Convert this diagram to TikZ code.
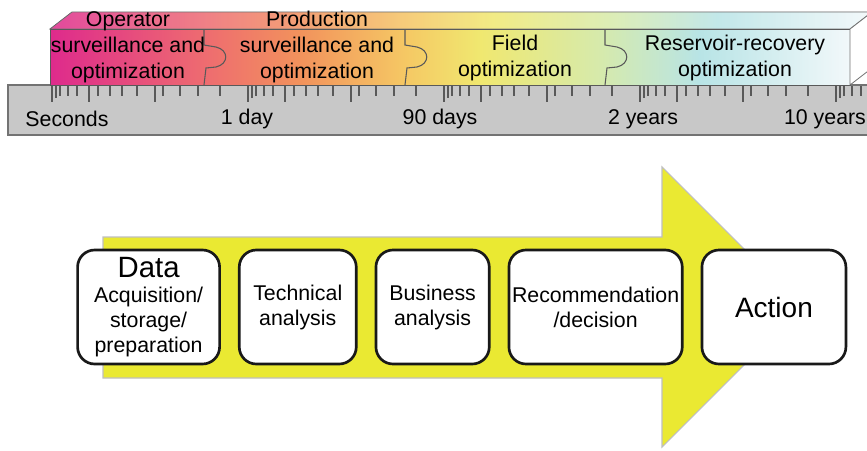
\documentclass[tikz,border=0pt]{standalone}
\usepackage{fontspec}
\setmainfont{Liberation Sans}
\usepackage{tikz}
\usetikzlibrary{shapes.misc}
\definecolor{bandmagenta}{RGB}{222,42,140}
\definecolor{bandsalmon}{RGB}{238,108,112}
\definecolor{bandorange}{RGB}{242,146,92}
\definecolor{bandamber}{RGB}{245,200,100}
\definecolor{bandyellow}{RGB}{240,232,112}
\definecolor{bandgreen}{RGB}{214,234,172}
\definecolor{bandcyan}{RGB}{184,228,230}
\definecolor{bandwhite}{RGB}{242,248,250}
\definecolor{arrowyellow}{RGB}{234,233,50}
\definecolor{rulergray}{RGB}{200,200,200}
\pgfdeclarehorizontalshading{timeband}{100bp}{color(0bp)=(bandmagenta); color(25bp)=(bandmagenta); color(34.7bp)=(bandsalmon); color(40.6bp)=(bandorange); color(47.2bp)=(bandamber); color(51.9bp)=(bandyellow); color(59.4bp)=(bandgreen); color(65.6bp)=(bandcyan); color(75bp)=(bandwhite); color(100bp)=(bandwhite)}
\tikzset{
	band/.style={
		% The filling:
		shading=timeband,
		% The border:
		draw=black!65,
		line width=0.6pt,
	}}
\tikzset{
	bandtext/.style={
		% The text:
		font=\fontsize{16}{19.5}\selectfont,
		align=center,inner sep=0pt,
	}}
\tikzset{
	tick/.style={
		draw=black!65,line width=1pt,
	}}
\tikzset{
	stage/.style={
		% The shape:
		shape=rectangle,rounded corners=4.5mm,
		% The size:
		minimum height=85.5pt,
		% The border:
		line width=2pt,
		draw=black!90,
		% The filling:
		fill=white,
		% The text:
		font=\fontsize{16}{18.75}\selectfont,
		align=center,inner sep=0pt,
	}}

\begin{document}
\begin{tikzpicture}[x=0.75pt,y=-0.75pt]
	\useasboundingbox (0,0) rectangle (867,450);
	% the ruler
	\draw[fill=rulergray,draw=black!55,line width=0.8pt] (8,85) rectangle (872,135);
	\foreach \c in {52,248,444,640,836}
		\foreach \o/\l in {0/16,4/12,8/10,16/10,25/10,37/16,46/10,58/10,70/10,85/10,103/16,111/10,128/10,146/10,168/10}
			\draw[tick] (\c+\o,86) -- ++(0,\l);
	\node[bandtext] (l0) at (67,119) {Seconds};
	\node[bandtext] (l1) at (247,119) {1 day};
	\node[bandtext] (l2) at (440,119) {90 days};
	\node[bandtext] (l3) at (643,119) {2 years};
	\node[bandtext] (l4) at (825,119) {10 years};
	% the band: top, front and end faces
	\draw[band] (50,29) -- (72,12) -- (872,12) -- (850,29) -- cycle;
	\fill[white,opacity=0.15] (50,29) -- (72,12) -- (872,12) -- (850,29) -- cycle;
	\draw[band] (50,29) rectangle (850,85);
	\draw[fill=white,draw=black!55,line width=0.6pt] (850,29) -- (872,12) -- (872,68) -- (850,85) -- cycle;
	\foreach \x in {204,405,605}
		\draw[draw=black!65,line width=0.8pt] (\x,29) -- (\x,45) -- (\x+12,47) .. controls (\x+25,50) and (\x+25,64) .. (\x+12,67) -- (\x+2,68) -- (\x,85);
	\node[bandtext] (b1) at (128,47) {Operator\\surveillance and\\optimization};
	\node[bandtext] (b2) at (317,47) {Production\\surveillance and\\optimization};
	\node[bandtext] (b3) at (515,58) {Field\\optimization};
	\node[bandtext] (b4) at (735,58) {Reservoir-recovery\\optimization};
	% the big arrow
	\draw[fill=arrowyellow,draw=black!25,line width=0.8pt] (103,237) -- (662,237) -- (662,167) -- (802,307) -- (662,447) -- (662,378) -- (103,378) -- cycle;
	\matrix (flow) [column sep=12.75pt,inner sep=0pt,anchor=west,ampersand replacement=\&] at (76,307) {
		\node[stage,minimum width=106.5pt] (data) {{\fontsize{22}{22}\selectfont Data}\\Acquisition/\\storage/\\preparation}; \&
		\node[stage,minimum width=87.75pt] (tech) {Technical\\analysis}; \&
		\node[stage,minimum width=85pt] (bus) {Business\\analysis}; \&
		\node[stage,minimum width=130pt] (rec) {Recommendation\\/decision}; \&
		\node[stage,minimum width=108pt,font=\fontsize{21}{24}\selectfont] (act) {Action}; \\
	};
\end{tikzpicture}
\end{document}
